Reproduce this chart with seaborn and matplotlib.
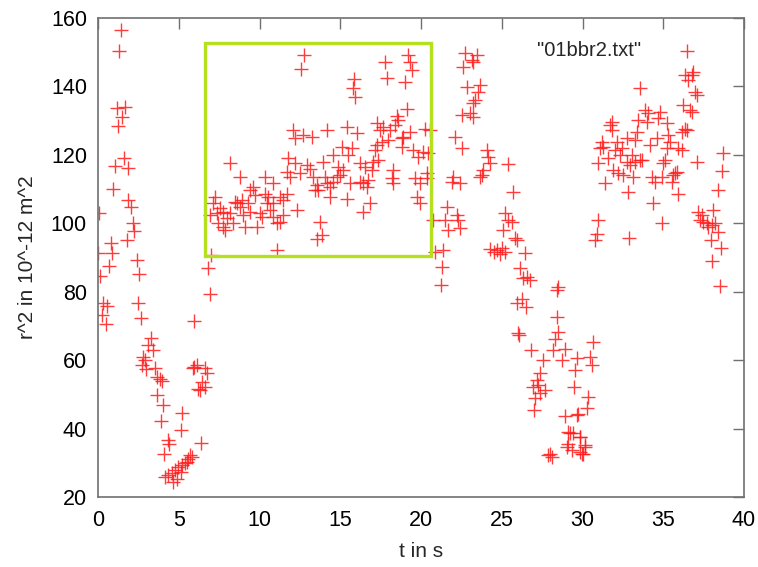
import numpy as np
import pandas as pd
import matplotlib
matplotlib.use("Agg")
import matplotlib.pyplot as plt
import seaborn as sns
from matplotlib.patches import Rectangle

# ---- data ----
t_a = [1.42,1.32,1.16,1.67,1.5,1.26,1.61,1.05,1.88,0.95,1.84,2.02,0.06,2.15,2.25,1.81,0.79,0.85,0.02,0.70,
       2.40,2.56,0.10,0.33,0.54,2.46,0.23,0.48,2.64,3.28,3.11,3.42,2.80,2.91,2.70,3.00,3.53,3.63,3.94,3.84,
       3.63,4.04,3.88,4.35,4.42,4.09,5.22,5.14,6.38,5.70,5.55,5.39,5.22,4.97,4.77,4.60,4.35,4.15,4.66,4.87,
       5.14,5.80,5.49,5.96,6.11,5.90,6.63,6.73,6.42,6.63,6.32,6.21,5.96,6.93,6.83,7.00]
r_a = [156.5,150.3,133.6,134.1,131.1,128.4,119.0,116.7,116.2,109.9,106.8,104.8,103.1,100.0,97.7,95.1,94.3,91.2,91.2,87.5,
       89.2,85.1,84.6,76.6,75.8,76.6,73.2,70.7,72.2,66.4,64.4,62.9,61.0,60.0,58.7,57.3,57.6,55.1,53.9,54.6,
       49.8,47.0,42.2,36.8,35.6,32.7,44.6,39.7,35.8,32.2,31.0,29.8,29.3,28.8,27.8,26.9,26.4,25.9,24.4,25.4,
       27.3,31.7,30.2,58.0,58.5,57.6,57.6,56.1,53.7,52.2,51.2,51.7,71.4,79.2,86.8,90.7]

t_b = [12.76,12.57,17.77,19.21,19.32,19.42,17.87,19.00,15.85,15.77,15.91,19.11,
       18.49,18.59,18.39,17.26,17.67,17.46,18.08,18.90,18.80,19.32,
       20.25,20.56,
       15.39,16.01,14.16,13.23,12.71,12.09,12.20,
       17.57,17.26,17.98,17.15,18.80,
       15.09,15.70,15.50,14.57,13.95,
       19.52,20.14,20.45,19.83,
       11.78,12.20,12.92,13.13,11.68,11.89,12.51,13.33,
       8.17,8.79,10.34,10.85,
       16.22,16.53,17.05,16.94,17.36,
       14.88,15.19,14.98,14.78,
       18.28,18.18,18.28,
       19.63,19.94,20.35,20.35,
       13.54,13.44,14.06,14.16,14.37,14.57,13.64,
       15.60,16.22,16.43,16.74,16.63,
       14.37,15.39,
       16.84,16.43,
       19.73,19.94,
       13.75,13.85,13.54,
       11.06,12.34,20.76,20.87,
       7.24,7.14,7.55,7.35,7.76,7.96,7.76,8.17,8.59,8.79,8.99,9.41,9.10,9.82,10.03,10.13,10.44,10.54,10.65,
       10.85,11.06,11.27,11.47,11.68,11.27,11.47,9.62,9.72,9.41,8.38,7.86,6.94,7.45,8.48,8.89,9.31,10.34,10.85]
r_b = [149.2,145.0,147.2,149.2,147.2,144.8,142.4,141.4,142.1,139.4,137.0,133.3,
       131.3,130.2,128.7,129.2,128.2,127.3,127.3,125.3,124.8,126.8,
       127.7,127.3,
       128.2,126.3,127.3,125.3,125.8,127.3,124.8,
       123.8,122.9,124.3,121.4,122.4,
       122.4,121.9,119.9,119.9,118.0,
       121.4,120.9,120.4,119.4,
       119.0,117.5,117.0,116.0,115.1,113.6,114.6,113.6,
       117.5,113.6,113.6,111.8,
       117.5,116.5,118.0,115.6,118.5,
       116.5,115.6,114.1,113.6,
       115.6,113.1,111.7,
       113.1,111.7,113.1,114.6,
       111.2,109.7,113.6,111.7,110.7,112.1,109.7,
       111.7,112.1,111.7,112.6,110.7,
       107.8,107.0,
       105.8,103.4,
       107.8,105.8,
       100.4,96.5,95.3,
       92.2,103.9,100.9,91.7,
       107.8,105.8,104.4,102.9,103.4,101.4,99.0,102.9,105.8,104.8,102.4,103.4,99.0,99.0,102.9,101.9,105.8,107.8,103.9,
       101.9,100.0,100.4,102.4,108.7,107.8,106.8,110.7,108.4,109.8,100.0,98.0,102.4,100.0,106.3,106.8,105.8,108.7,105.8]

t_c = [22.72,23.45,23.14,22.62,23.24,
       22.83,23.65,23.55,23.34,23.24,22.52,23.03,23.24,
       22.10,22.52,
       24.07,24.17,24.27,23.86,23.76,23.65,
       25.41,25.68,
       22.00,21.90,22.41,
       21.59,21.49,21.69,22.21,22.31,22.41,
       21.38,21.28,21.24,
       25.20,25.41,25.62,25.10,
       25.82,25.93,26.44,
       24.3,24.5,24.7,24.9,25.0,25.2,
       26.13,26.54,26.33,26.75,
       26.24,25.93,26.50,
       28.5,28.4,
       26.03,26.09,
       26.79,
       28.40,28.50,28.30,28.92,28.19,
       27.57,28.71,29.64,29.54,29.47,
       27.37,27.16,27.26,26.95,27.68,27.37,27.06,27.01,
       28.92,29.68,
       29.23,29.02,29.12,29.85,30.15,29.95,
       27.99,28.09,27.88,
       30.67,30.46,30.57,
       30.36,30.26,29.74,
       29.12,29.43,29.85,30.15,29.33,29.85,30.05]
r_c = [149.7,149.2,147.7,145.8,147.2,
       139.9,140.4,138.5,136.0,135.1,131.6,132.1,131.1,
       125.3,121.9,
       121.4,119.4,117.5,115.6,114.1,113.6,
       117.3,109.2,
       113.6,112.1,111.7,
       104.8,100.9,98.0,102.4,100.9,98.5,
       92.2,87.3,81.9,
       102.9,100.9,100.4,98.0,
       95.6,95.1,91.2,
       92.5,91.6,92.2,91.0,92.8,91.5,
       86.8,84.4,83.9,83.4,
       78.0,76.6,75.6,
       81.4,80.5,
       67.8,67.3,
       62.9,
       72.7,68.3,66.3,63.4,62.9,
       60.0,60.0,60.5,57.1,52.2,
       56.1,54.2,52.7,52.2,51.2,50.3,48.8,45.4,
       43.6,43.9,
       38.6,34.7,35.6,37.6,34.7,32.7,
       32.7,31.7,32.2,
       65.4,61.0,58.5,
       49.3,45.9,44.4,
       39.1,38.6,37.6,35.1,33.7,33.2,32.7]

t_d = [36.35,36.76,36.86,36.55,36.97,37.07,
       33.56,
       36.24,36.66,36.76,
       33.87,34.07,33.97,34.80,34.70,35.21,33.46,31.81,31.70,31.85,
       36.35,36.45,36.14,
       33.35,32.73,33.25,34.59,35.31,35.42,35.21,34.18,35.93,36.14,
       31.19,31.29,31.08,32.11,32.42,32.01,32.32,31.60,30.98,
       33.05,33.25,33.67,32.94,33.56,35.11,35.00,32.73,
       37.07,38.72,38.62,
       35.73,35.62,35.83,35.52,35.93,
       31.91,32.22,32.53,33.15,34.28,34.49,34.90,
       31.39,32.84,34.38,34.94,
       38.37,
       37.17,37.38,37.27,37.48,37.69,38.10,38.20,37.79,38.00,
       38.41,37.96,38.58,38.00,38.51,
       30.94,30.88,30.77,32.90]
r_d = [143.3,143.3,144.3,141.9,138.5,137.5,
       139.4,
       134.6,133.1,132.6,
       133.1,132.1,129.7,132.6,130.7,129.2,130.2,129.7,128.7,127.3,
       127.7,127.3,126.8,
       126.8,124.8,124.3,124.8,125.8,123.8,121.9,122.9,121.9,121.4,
       123.8,122.4,121.9,123.8,121.9,121.4,119.9,119.0,117.5,
       119.9,118.0,118.5,117.0,118.5,118.5,117.5,118.0,
       118.0,120.6,115.3,
       114.6,114.1,115.1,112.1,108.7,
       115.6,114.6,114.1,113.6,113.6,112.1,113.6,
       111.7,109.2,105.8,100.1,
       109.7,
       103.4,102.4,100.9,100.4,100.0,103.9,100.0,99.0,99.5,
       97.5,95.1,92.7,88.9,81.7,
       101.1,97.0,95.1,95.6]

x_ticks = [0, 5, 10, 15, 20, 25, 30, 35, 40]
y_ticks = [20, 40, 60, 80, 100, 120, 140, 160]
box_t = [6.63, 20.6]
box_r = [90.4, 152.7]
series_label = '"01bbr2.txt"'

for a, b in [(t_a, r_a), (t_b, r_b), (t_c, r_c), (t_d, r_d)]:
    assert len(a) == len(b), (len(a), len(b))

df = pd.DataFrame({"t": t_a + t_b + t_c + t_d, "r2": r_a + r_b + r_c + r_d})

sns.set_theme(style="white")
plt.rcParams["font.family"] = ["Liberation Sans", "DejaVu Sans"]

fig = plt.figure(figsize=(7.58, 5.67), dpi=100)
ax = fig.add_axes([98/758, 1-497/567, (744-98)/758, (497-18)/567])

sns.scatterplot(data=df, x="t", y="r2", marker="+", color="#ff1a1a", s=100,
                linewidth=1.0, alpha=0.85, label=series_label, ax=ax, legend=True)

ax.add_patch(Rectangle((box_t[0], box_r[0]), box_t[1]-box_t[0], box_r[1]-box_r[0],
                       fill=False, edgecolor="#b5e01e", linewidth=2.4, zorder=3))

ax.set_xlim(0, 40)
ax.set_ylim(20, 160)
ax.set_xticks(x_ticks)
ax.set_yticks(y_ticks)
ax.tick_params(direction="in", length=8, width=1, color="#707070",
               top=True, right=True, labelsize=15.5, labelcolor="black")
ax.tick_params(axis="x", pad=9)
ax.tick_params(axis="y", pad=8)
for sp in ax.spines.values():
    sp.set_color("#707070")
    sp.set_linewidth(1.2)
ax.set_xlabel("t in s", fontsize=15, labelpad=8)
ax.set_ylabel("r^2 in 10^-12 m^2", fontsize=15, labelpad=10)

leg = ax.legend(loc="upper right", bbox_to_anchor=(0.963, 0.99), frameon=False,
                markerfirst=False, fontsize=14.5, handletextpad=1.5, handlelength=1.5)

fig.savefig("out.png", dpi=100)
